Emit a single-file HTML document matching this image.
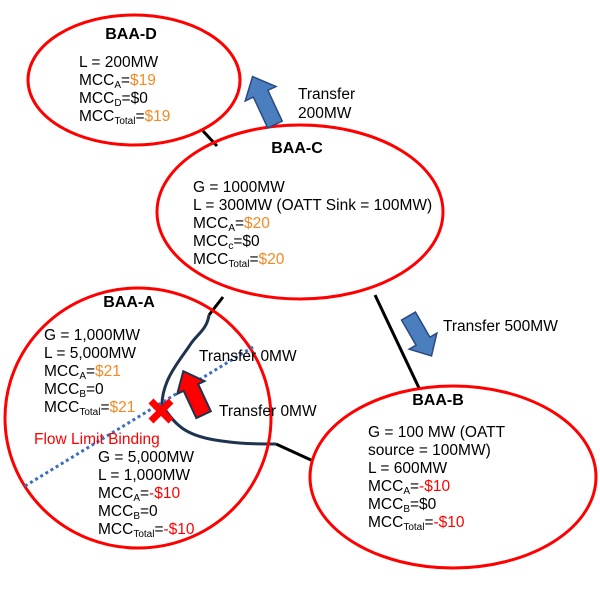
<!DOCTYPE html>
<html><head><style>
body{margin:0;background:#fff;}
svg{display:block;font-family:"Liberation Sans",Arial,sans-serif;}
text{font-size:15.5px;fill:#000;}
.t{font-weight:bold;font-size:16px;}
.o{fill:#f08a24;}
.r{fill:#f00;}
.s{font-size:10px;}
</style></head><body>
<svg width="600" height="600" viewBox="0 0 600 600" xmlns="http://www.w3.org/2000/svg">
<line x1="203" y1="131" x2="217" y2="146" stroke="#000" stroke-width="3"/>
<line x1="375" y1="295" x2="419" y2="388" stroke="#000" stroke-width="3"/>
<line x1="223" y1="297" x2="209" y2="315" stroke="#000" stroke-width="3"/>
<line x1="276" y1="444" x2="311" y2="460" stroke="#000" stroke-width="3"/>
<path d="M209,315 C207,330 196,335 190,345 C180,360 162,380 162,405 C175,425 185,435 215,440 C240,444 255,444 276,444" fill="none" stroke="#1f3350" stroke-width="3"/>
<ellipse cx="134" cy="80" rx="106" ry="65" fill="none" stroke="#f00" stroke-width="3"/>
<ellipse cx="300" cy="212" rx="143" ry="87" fill="none" stroke="#f00" stroke-width="3"/>
<ellipse cx="138" cy="418" rx="133" ry="130" fill="none" stroke="#f00" stroke-width="3"/>
<ellipse cx="453" cy="477" rx="143" ry="91" fill="none" stroke="#f00" stroke-width="3"/>
<line x1="25" y1="486" x2="253" y2="347" stroke="#3a6fc0" stroke-width="3" stroke-dasharray="3,3"/>
<g transform="translate(264,101) rotate(-25)">
<polygon points="-8,26 -8,-8 -17,-8 0,-27 17,-8 8,-8 8,26" fill="#4a7ebf" stroke="#2a4a80" stroke-width="1.5"/>
</g>
<g transform="translate(420,336) rotate(-30)">
<polygon points="-8,-23 -8,6 -16,6 0,23 16,6 8,6 8,-23" fill="#4a7ebf" stroke="#2a4a80" stroke-width="1.5"/>
</g>
<g transform="translate(193,392) rotate(-25)">
<polygon points="-8,25 -8,-5 -15,-5 0,-23 15,-5 8,-5 8,25" fill="#f00" stroke="#1f3350" stroke-width="2"/>
</g>
<g transform="translate(161,411)">
<line x1="-10" y1="-10" x2="10" y2="10" stroke="#f00" stroke-width="7"/>
<line x1="-10" y1="10" x2="10" y2="-10" stroke="#f00" stroke-width="7"/>
</g>
<text x="131" y="39" class="t" text-anchor="middle">BAA-D</text>
<text x="79" y="67">L = 200MW</text>
<text x="79" y="85">MCC<tspan class="s" dy="3">A</tspan><tspan dy="-3">=</tspan><tspan class="o">$19</tspan></text>
<text x="79" y="103">MCC<tspan class="s" dy="3">D</tspan><tspan dy="-3">=$0</tspan></text>
<text x="79" y="121">MCC<tspan class="s" dy="3">Total</tspan><tspan dy="-3">=</tspan><tspan class="o">$19</tspan></text>
<text x="298" y="99">Transfer</text>
<text x="298" y="118">200MW</text>
<text x="297" y="153" class="t" text-anchor="middle">BAA-C</text>
<text x="193" y="192">G = 1000MW</text>
<text x="193" y="210">L = 300MW (OATT Sink = 100MW)</text>
<text x="193" y="228">MCC<tspan class="s" dy="3">A</tspan><tspan dy="-3">=</tspan><tspan class="o">$20</tspan></text>
<text x="193" y="246">MCC<tspan class="s" dy="3">c</tspan><tspan dy="-3">=$0</tspan></text>
<text x="193" y="264">MCC<tspan class="s" dy="3">Total</tspan><tspan dy="-3">=</tspan><tspan class="o">$20</tspan></text>
<text x="129" y="307" class="t" text-anchor="middle">BAA-A</text>
<text x="44" y="340">G = 1,000MW</text>
<text x="44" y="358">L = 5,000MW</text>
<text x="44" y="376">MCC<tspan class="s" dy="3">A</tspan><tspan dy="-3">=</tspan><tspan class="o">$21</tspan></text>
<text x="44" y="394">MCC<tspan class="s" dy="3">B</tspan><tspan dy="-3">=0</tspan></text>
<text x="44" y="412">MCC<tspan class="s" dy="3">Total</tspan><tspan dy="-3">=</tspan><tspan class="o">$21</tspan></text>
<text x="34" y="444" class="r">Flow Limit Binding</text>
<text x="98" y="462">G = 5,000MW</text>
<text x="98" y="480">L = 1,000MW</text>
<text x="98" y="498">MCC<tspan class="s" dy="3">A</tspan><tspan dy="-3">=</tspan><tspan class="r">-$10</tspan></text>
<text x="98" y="516">MCC<tspan class="s" dy="3">B</tspan><tspan dy="-3">=0</tspan></text>
<text x="98" y="534">MCC<tspan class="s" dy="3">Total</tspan><tspan dy="-3">=</tspan><tspan class="r">-$10</tspan></text>
<text x="199" y="361">Transfer 0MW</text>
<text x="219" y="416">Transfer 0MW</text>
<text x="443" y="331">Transfer 500MW</text>
<text x="438" y="405" class="t" text-anchor="middle">BAA-B</text>
<text x="368" y="437">G = 100 MW  (OATT</text>
<text x="368" y="455">source = 100MW)</text>
<text x="368" y="473">L = 600MW</text>
<text x="368" y="491">MCC<tspan class="s" dy="3">A</tspan><tspan dy="-3">=</tspan><tspan class="r">-$10</tspan></text>
<text x="368" y="509">MCC<tspan class="s" dy="3">B</tspan><tspan dy="-3">=$0</tspan></text>
<text x="368" y="527">MCC<tspan class="s" dy="3">Total</tspan><tspan dy="-3">=</tspan><tspan class="r">-$10</tspan></text>
</svg>
</body></html>
